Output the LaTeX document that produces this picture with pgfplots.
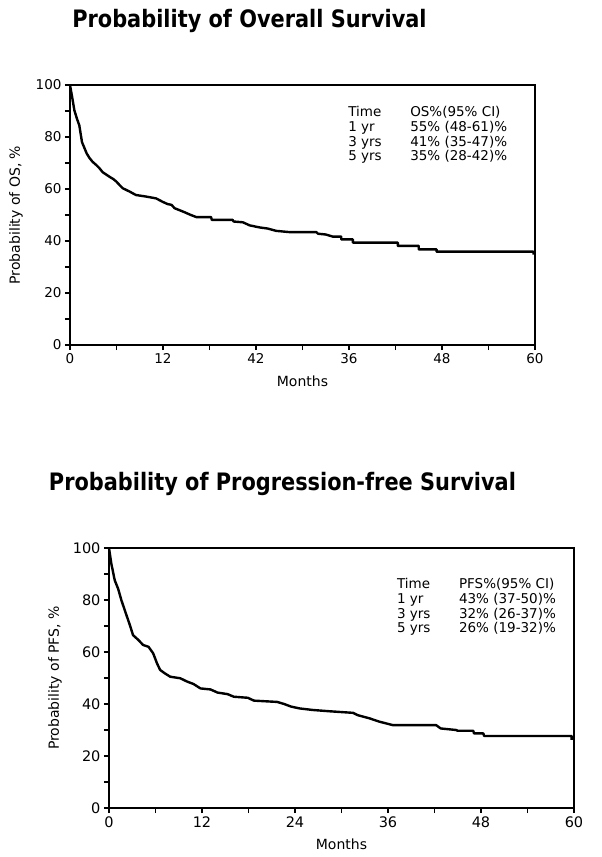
\documentclass[border=0pt]{standalone}
\usepackage{fontspec}
\setmainfont{DejaVu Sans}
\newfontfamily\titlefont{DejaVu Sans}[FakeStretch=0.87]
\usepackage{pgfplots}
\pgfplotsset{compat=1.18}

% survival curves (months, percent)
\pgfplotsset{
  km/.style={
    scale only axis, width=465pt, height=260pt,
    xmin=0, xmax=60, ymin=0, ymax=100,
    xtick={0,12,...,60}, ytick={0,20,...,100},
    minor x tick num=1, minor y tick num=1,
    tick pos=left, tick align=outside,
    major tick length=5pt, minor tick length=5pt,
    axis line style={line width=1.3pt},
    every tick/.style={black, line width=1.1pt},
    /pgf/number format/assume math mode=true,
    tick label style={font=\fontsize{13.5}{15}\selectfont},
    label style={font=\fontsize{14}{16}\selectfont},
    xlabel={Months},
    xlabel style={at={(axis description cs:0.5,-0.138)}, anchor=center},
    ylabel style={at={(axis description cs:-0.116,0.5)}, anchor=center},
    title style={font=\titlefont\fontsize{24}{27}\selectfont\bfseries, anchor=center},
    clip=false,
  },
  curve/.style={sharp plot, black, line width=2.4pt, line join=round, no marks},
}

\begin{document}
\begin{tikzpicture}
\useasboundingbox (0,0) rectangle (602pt,-857pt);

\begin{axis}[km, at={(70pt,-345pt)}, anchor=south west,
  xticklabels={0,12,42,36,48,60},
  ylabel={Probability of OS, \%},
  title={Probability of Overall Survival},
  title style={at={(axis description cs:0.386,1.225)}}]
\addplot[curve] coordinates {
(0,100) (0.3,95) (0.56,90.3) (0.9,87) (1.2,84.5) (1.55,78) (1.9,75.5)
(2.15,73.7) (2.5,72) (2.9,70.5) (3.4,69.2) (3.8,68) (4.2,66.5) (5.1,64.7)
(5.6,63.8) (6.0,62.8) (6.4,61.5) (6.8,60.3) (7.7,59) (8.5,57.7) (9.8,57.1)
(11.1,56.4) (12.0,55) (12.6,54.2) (13.1,53.9) (13.5,52.6) (14.6,51.3)
(15.6,50) (16.3,49.2) (18.2,49.2) (18.3,48.1) (21.0,48.1) (21.1,47.5)
(22.3,47.2) (23.2,46.0) (24.5,45.2) (25.5,44.8) (26.6,43.9) (28.4,43.4)
(31.8,43.4) (32,42.8) (33.0,42.5) (33.9,41.7) (35.0,41.7) (35.0,40.6)
(36.5,40.6) (36.5,39.4) (42.3,39.4) (42.3,38.1) (45,38.1) (45,36.8)
(47.3,36.8) (47.3,35.9) (59.8,35.9) (59.8,34.8)
};
\node[anchor=north west, inner sep=0pt, font=\fontsize{13.5}{14.7}\selectfont]
  at (axis description cs:0.598,0.918) {%
  \begin{tabular}{@{}p{62pt}@{}l@{}}
  Time & OS\%(95\% CI)\\
  1 yr & 55\% (48-61)\%\\
  3 yrs & 41\% (35-47)\%\\
  5 yrs & 35\% (28-42)\%
  \end{tabular}};
\end{axis}

\begin{axis}[km, at={(109pt,-808pt)}, anchor=south west,
  tick label style={font=\fontsize{14.5}{16}\selectfont},
  ylabel={Probability of PFS, \%},
  title={Probability of Progression-free Survival},
  title style={at={(axis description cs:0.373,1.225)}}]
\addplot[curve] coordinates {
(0,100) (0.3,94) (0.74,87.6) (1.17,84.4) (1.6,79.9) (2.25,74.2) (2.7,70.3)
(3.1,66.5) (3.8,64.6) (4.4,62.7) (5.1,62) (5.7,59.5) (6.2,55.6) (6.6,53.1)
(7.2,51.8) (7.9,50.5) (9.2,49.9) (10.1,48.6) (10.9,47.7) (11.8,46)
(13.1,45.6) (14,44.4) (15.3,43.8) (16.1,42.8) (17.9,42.4) (18.7,41.3)
(20.5,41) (21.7,40.8) (22.6,40) (23.5,39) (24.6,38.3) (26.3,37.7)
(28.5,37.2) (31.5,36.6) (32.1,35.7) (33.6,34.5) (34.9,33.2) (36.6,31.9)
(42.2,31.9) (42.8,30.6) (44.8,30) (45,29.7) (47,29.7) (47.1,28.7)
(48.3,28.7) (48.4,27.7) (59.7,27.7) (59.7,26.2)
};
\node[anchor=north west, inner sep=0pt, font=\fontsize{13.5}{14.7}\selectfont]
  at (axis description cs:0.619,0.884) {%
  \begin{tabular}{@{}p{62pt}@{}l@{}}
  Time & PFS\%(95\% CI)\\
  1 yr & 43\% (37-50)\%\\
  3 yrs & 32\% (26-37)\%\\
  5 yrs & 26\% (19-32)\%
  \end{tabular}};
\end{axis}
\end{tikzpicture}
\end{document}
